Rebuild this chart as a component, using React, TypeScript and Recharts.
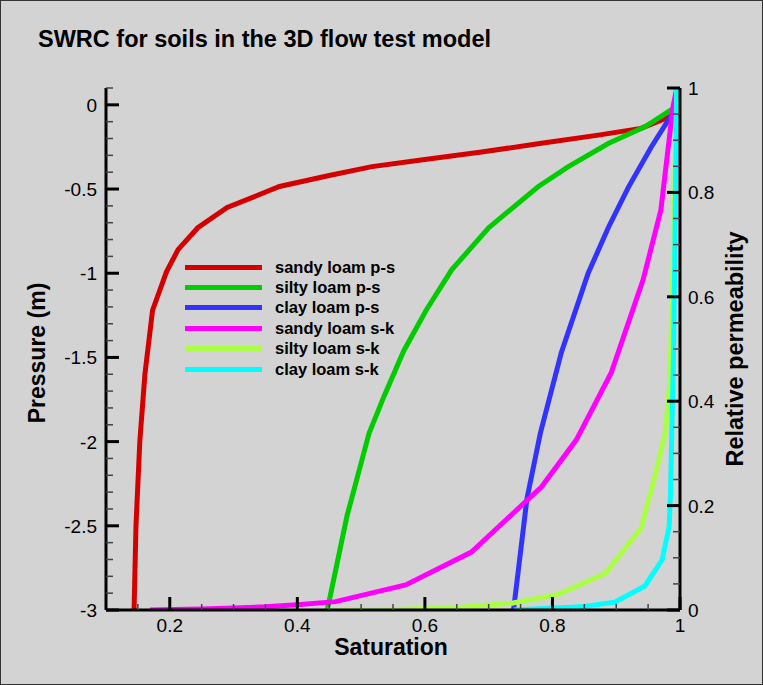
import React from "react";
import { LineChart, Line, XAxis, YAxis, Legend } from "recharts";

const FONT = "'Liberation Sans', Arial, sans-serif";

// saturation / pressure (m) for the p-s curves
const sandyPsSat = [0.144, 0.147, 0.153, 0.161, 0.173, 0.195, 0.213, 0.244, 0.29, 0.336, 0.372, 0.45, 0.517, 0.6, 0.689, 0.78, 0.872, 0.939, 0.984, 0.995];
const sandyPsP = [-3, -2.5, -2, -1.6, -1.22, -0.99, -0.86, -0.73, -0.61, -0.54, -0.485, -0.42, -0.367, -0.325, -0.28, -0.23, -0.18, -0.14, -0.07, -0.05];

const siltyPsSat = [0.447, 0.478, 0.5125, 0.536, 0.567, 0.602, 0.642, 0.7, 0.778, 0.825, 0.8875, 0.945, 0.986, 0.995];
const siltyPsP = [-3, -2.44, -1.95, -1.73, -1.46, -1.22, -0.98, -0.73, -0.485, -0.367, -0.23, -0.13, -0.03, -0.01];

const clayPsSat = [0.739, 0.76, 0.781, 0.814, 0.856, 0.8875, 0.919, 0.955, 0.986, 0.995];
const clayPsP = [-3, -2.34, -1.95, -1.47, -1.0, -0.73, -0.49, -0.25, -0.065, -0.04];

// saturation / relative permeability for the s-k curves
const sandySkSat = [0.169, 0.25, 0.3, 0.35, 0.4, 0.46, 0.57, 0.673, 0.783, 0.8375, 0.892, 0.942, 0.97, 0.989, 0.995];
const sandySkK = [0, 0.002, 0.004, 0.006, 0.01, 0.016, 0.048, 0.111, 0.236, 0.326, 0.454, 0.632, 0.766, 0.964, 1.0];

const siltySkSat = [0.447, 0.55, 0.653, 0.736, 0.809, 0.883, 0.939, 0.958, 0.977, 0.984, 0.99, 0.995];
const siltySkK = [0, 0.001, 0.005, 0.013, 0.03, 0.07, 0.157, 0.243, 0.34, 0.435, 0.7, 1.0];

const claySkSat = [0.739, 0.845, 0.898, 0.945, 0.972, 0.983, 0.985, 0.99, 0.995];
const claySkK = [0, 0.006, 0.015, 0.046, 0.096, 0.16, 0.22, 0.5, 1.0];

// ticks
const xTicks = [0.15, 0.2, 0.25, 0.3, 0.35, 0.4, 0.45, 0.5, 0.55, 0.6, 0.65, 0.7, 0.75, 0.8, 0.85, 0.9, 0.95, 1];
const xMajor = [0.2, 0.4, 0.6, 0.8, 1];
const pTicks = [-3, -2.9, -2.8, -2.7, -2.6, -2.5, -2.4, -2.3, -2.2, -2.1, -2, -1.9, -1.8, -1.7, -1.6, -1.5, -1.4, -1.3, -1.2, -1.1, -1, -0.9, -0.8, -0.7, -0.6, -0.5, -0.4, -0.3, -0.2, -0.1, 0, 0.1];
const pMajor = [-3, -2.5, -2, -1.5, -1, -0.5, 0];
const kTicks = [0, 0.05, 0.1, 0.15, 0.2, 0.25, 0.3, 0.35, 0.4, 0.45, 0.5, 0.55, 0.6, 0.65, 0.7, 0.75, 0.8, 0.85, 0.9, 0.95, 1];
const kMajor = [0, 0.2, 0.4, 0.6, 0.8, 1];

const toPoints = (sat: number[], vals: number[]) => sat.map((s, i) => ({ sat: s, v: vals[i] }));

const series = [
  { name: "sandy loam p-s", color: "#d40000", axis: "p", data: toPoints(sandyPsSat, sandyPsP) },
  { name: "silty loam p-s", color: "#00cc00", axis: "p", data: toPoints(siltyPsSat, siltyPsP) },
  { name: "clay loam p-s", color: "#3333ff", axis: "p", data: toPoints(clayPsSat, clayPsP) },
  { name: "sandy loam s-k", color: "#ff00ff", axis: "k", data: toPoints(sandySkSat, sandySkK) },
  { name: "silty loam s-k", color: "#aaff44", axis: "k", data: toPoints(siltySkSat, siltySkK) },
  { name: "clay loam s-k", color: "#00ffff", axis: "k", data: toPoints(claySkSat, claySkK) },
];

const isMajor = (v: number, majors: number[]) => majors.some((m) => Math.abs(m - v) < 1e-9);

const XTick = (props: any) => {
  const { x, y, payload } = props;
  const major = isMajor(payload.value, xMajor);
  return (
    <g>
      <line x1={x} x2={x} y1={y} y2={y - (major ? 13 : 6)} stroke={major ? "#000" : "#444"} strokeWidth={major ? 3 : 1.5} />
      {major && (
        <text x={x} y={y + 22} textAnchor="middle" fontSize={19} fontFamily={FONT} fill="#000">
          {String(payload.value)}
        </text>
      )}
    </g>
  );
};

const LeftTick = (props: any) => {
  const { x, y, payload } = props;
  const major = isMajor(payload.value, pMajor);
  return (
    <g>
      <line x1={x} x2={x + (major ? 13 : 7)} y1={y} y2={y} stroke={major ? "#000" : "#444"} strokeWidth={major ? 3 : 1.5} />
      {major && (
        <text x={x - 9} y={y + 7} textAnchor="end" fontSize={19} fontFamily={FONT} fill="#000">
          {String(payload.value)}
        </text>
      )}
    </g>
  );
};

const RightTick = (props: any) => {
  const { x, y, payload } = props;
  const major = isMajor(payload.value, kMajor);
  return (
    <g>
      <line x1={x} x2={x - (major ? 13 : 7)} y1={y} y2={y} stroke={major ? "#000" : "#444"} strokeWidth={major ? 3 : 1.5} />
      {major && (
        <text x={x + 8} y={y + 7} textAnchor="start" fontSize={19} fontFamily={FONT} fill="#000">
          {String(payload.value)}
        </text>
      )}
    </g>
  );
};

// legend keeps the series order
const renderLegend = () => (
  <div>
    {series.map((s) => (
      <div key={s.name} style={{ display: "flex", alignItems: "center", height: 20.4 }}>
        <span style={{ display: "inline-block", width: 77, height: 5, background: s.color, marginRight: 13 }} />
        <span style={{ fontFamily: FONT, fontWeight: "bold", fontSize: 16.5, color: "#000", whiteSpace: "nowrap" }}>{s.name}</span>
      </div>
    ))}
  </div>
);

const App = () => {
  return (
    <div
      style={{
        position: "absolute",
        left: 0,
        top: 0,
        width: 763,
        height: 685,
        background: "#d3d3d3",
        boxShadow: "inset 0 0 0 1px #333",
      }}
    >
      <div
        style={{
          position: "absolute",
          left: 38,
          top: 28,
          fontFamily: FONT,
          fontWeight: "bold",
          fontSize: 23.5,
          lineHeight: 1,
          whiteSpace: "nowrap",
          color: "#000",
        }}
      >
        SWRC for soils in the 3D flow test model
      </div>
      <LineChart width={763} height={685} margin={{ top: 88, right: 23, bottom: 35, left: 46 }}>
        <XAxis
          type="number"
          dataKey="sat"
          domain={[0.1, 1]}
          allowDataOverflow
          ticks={xTicks}
          interval={0}
          tick={<XTick />}
          tickLine={false}
          tickSize={0}
          tickMargin={0}
          height={40}
          axisLine={{ stroke: "#000", strokeWidth: 3 }}
          label={{
            content: (p: any) => (
              <text
                x={p.viewBox.x + p.viewBox.width / 2 - 2}
                y={p.viewBox.y + 45}
                textAnchor="middle"
                fontSize={23}
                fontWeight="bold"
                fontFamily={FONT}
                fill="#000"
              >
                Saturation
              </text>
            ),
          }}
        />
        <YAxis
          yAxisId="p"
          orientation="left"
          type="number"
          domain={[-3, 0.1]}
          allowDataOverflow
          ticks={pTicks}
          interval={0}
          tick={<LeftTick />}
          tickLine={false}
          tickSize={0}
          tickMargin={0}
          width={60}
          axisLine={{ stroke: "#000", strokeWidth: 3 }}
          label={{
            content: (p: any) => {
              const cx = p.viewBox.x - 1;
              const cy = p.viewBox.y + p.viewBox.height / 2 + 4;
              return (
                <text
                  x={cx}
                  y={cy}
                  transform={`rotate(-90 ${cx} ${cy})`}
                  textAnchor="middle"
                  fontSize={23}
                  fontWeight="bold"
                  fontFamily={FONT}
                  fill="#000"
                >
                  Pressure (m)
                </text>
              );
            },
          }}
        />
        <YAxis
          yAxisId="k"
          orientation="right"
          type="number"
          domain={[0, 1]}
          allowDataOverflow
          ticks={kTicks}
          interval={0}
          tick={<RightTick />}
          tickLine={false}
          tickSize={0}
          tickMargin={0}
          width={60}
          axisLine={{ stroke: "#000", strokeWidth: 3 }}
          label={{
            content: (p: any) => {
              const cx = p.viewBox.x + 63;
              const cy = p.viewBox.y + p.viewBox.height / 2;
              return (
                <text
                  x={cx}
                  y={cy}
                  transform={`rotate(-90 ${cx} ${cy})`}
                  textAnchor="middle"
                  fontSize={23.5}
                  fontWeight="bold"
                  fontFamily={FONT}
                  fill="#000"
                >
                  Relative permeability
                </text>
              );
            },
          }}
        />
        <Legend
          layout="vertical"
          align="center"
          verticalAlign="middle"
          wrapperStyle={{ left: 185, top: 257, width: "auto", height: "auto" }}
          content={renderLegend}
        />
        {series.map((s) => (
          <Line
            key={s.name}
            name={s.name}
            yAxisId={s.axis}
            data={s.data}
            dataKey="v"
            type="linear"
            stroke={s.color}
            strokeWidth={5}
            dot={false}
            activeDot={false}
            isAnimationActive={false}
          />
        ))}
      </LineChart>
    </div>
  );
};

export default App;
